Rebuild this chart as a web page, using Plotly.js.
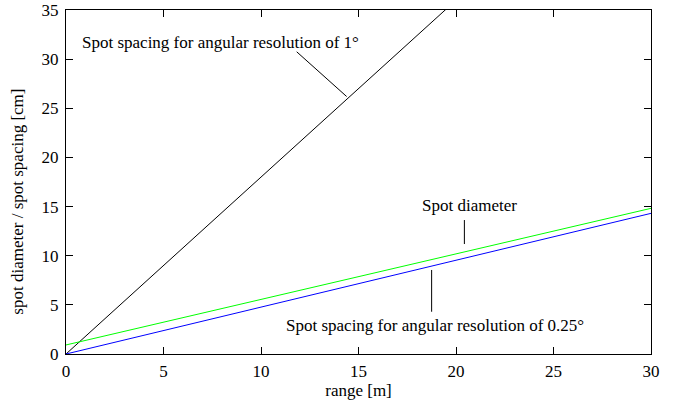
<!DOCTYPE html>
<html>
<head>
<meta charset="utf-8">
<script src="https://cdn.plot.ly/plotly-3.0.1.min.js"></script>
<style>html,body{margin:0;padding:0;background:#fff;}#chart{width:677px;height:402px;}</style>
</head>
<body>
<div id="chart"></div>
<script>
// Data
const rangeM = [0, 30];
const spacing1deg = [0, 54.0];
const spotDiameter = [0.92, 14.82];
const spacing025deg = [0, 14.31];

const labelTexts = [
  'Spot spacing for angular resolution of 1°',
  'Spot diameter',
  'Spot spacing for angular resolution of 0.25°'
];
const xTitle = 'range [m]';
const yTitle = 'spot diameter / spot spacing [cm]';

const font = {family: 'Liberation Serif, Times New Roman, serif', size: 17, color: '#000'};

const traces = [
  {x: rangeM, y: spacing1deg, mode: 'lines', line: {color: '#000000', width: 1}},
  {x: rangeM, y: spotDiameter, mode: 'lines', line: {color: '#00ff00', width: 1}},
  {x: rangeM, y: spacing025deg, mode: 'lines', line: {color: '#0000ff', width: 1}}
];

const axisBase = {
  showline: true, mirror: 'allticks', linecolor: '#000', linewidth: 1,
  ticks: 'inside', ticklen: 7, tickcolor: '#000', tickwidth: 1,
  showgrid: false, zeroline: false, tickfont: font
};

const layout = {
  width: 677, height: 402,
  margin: {l: 66, r: 26, t: 10, b: 48},
  paper_bgcolor: '#fff', plot_bgcolor: '#fff',
  showlegend: false,
  font: font,
  xaxis: Object.assign({}, axisBase, {range: [0, 30], dtick: 5, ticklabelstandoff: 2, title: {text: xTitle, font: font, standoff: 0}}),
  yaxis: Object.assign({}, axisBase, {range: [0, 35], dtick: 5, ticklabelstandoff: 3}),
  annotations: [
    {x: 0.72, y: 31.74, text: labelTexts[0], showarrow: false, xanchor: 'left', yanchor: 'middle', font: font},
    {x: 20.67, y: 15.06, text: labelTexts[1], showarrow: false, xanchor: 'center', yanchor: 'middle', font: font},
    {x: 18.92, y: 2.95, text: labelTexts[2], showarrow: false, xanchor: 'center', yanchor: 'middle', font: font},
    {xref: 'paper', yref: 'paper', x: -0.082, y: 0.443, text: yTitle, textangle: -90, showarrow: false, xanchor: 'center', yanchor: 'middle', font: font}
  ],
  shapes: [
    {type: 'line', x0: 11.83, y0: 30.75, x1: 14.39, y1: 26.2, line: {color: '#000', width: 1}},
    {type: 'line', x0: 20.43, y0: 13.63, x1: 20.43, y1: 11.19, line: {color: '#000', width: 1}},
    {type: 'line', x0: 18.75, y0: 8.55, x1: 18.75, y1: 4.30, line: {color: '#000', width: 1}}
  ]
};

Plotly.newPlot('chart', traces, layout, {displayModeBar: false, staticPlot: true});
</script>
</body>
</html>
